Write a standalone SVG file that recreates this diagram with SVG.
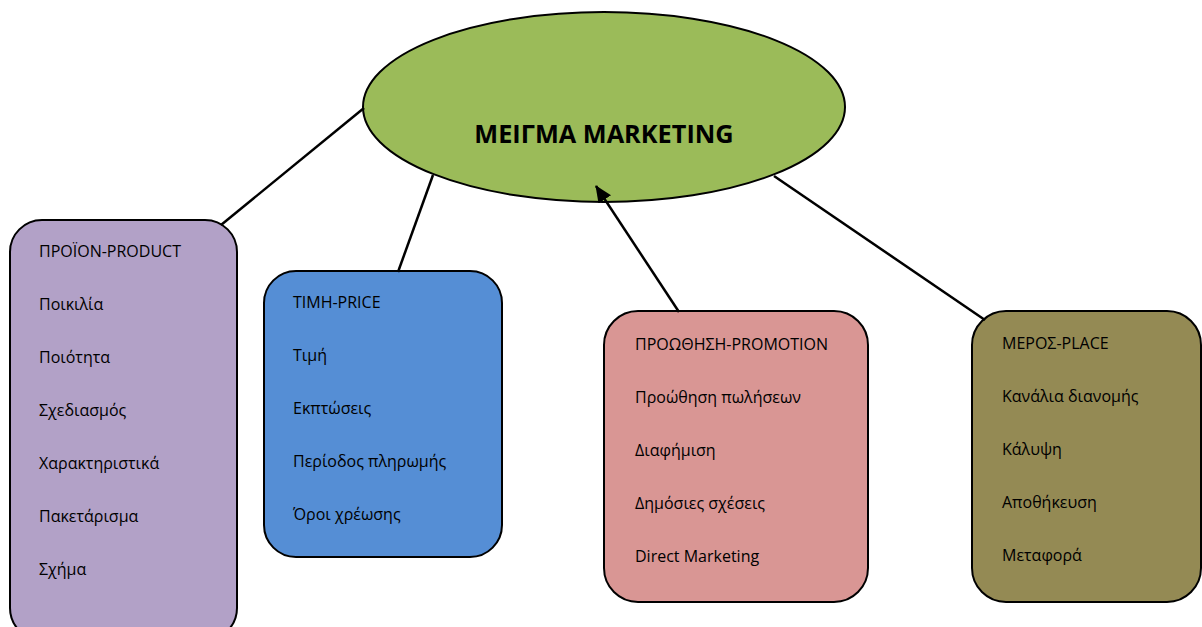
<svg xmlns="http://www.w3.org/2000/svg" width="1202" height="627" viewBox="0 0 1202 627">
  <style>
    .box { stroke: #000; stroke-width: 2; }
    .lbl { font-family: "Open Sans", "Liberation Sans", sans-serif; font-size: 16px; fill: #000; }
    .title { font-family: "Open Sans", "Liberation Sans", sans-serif; font-size: 25.3px; font-weight: bold; fill: #000; text-anchor: middle; }
    .conn { stroke: #000; stroke-width: 2.5; fill: none; }
  </style>
  <defs>
    <marker id="arrow" markerWidth="17" markerHeight="15" refX="16" refY="7.5" orient="auto" markerUnits="userSpaceOnUse" viewBox="0 0 17 15">
      <path d="M0,0 L17,7.5 L0,15 z" fill="#000"/>
    </marker>
  </defs>
  <rect width="1202" height="627" fill="#fff"/>

  <!-- central node -->
  <g id="mix">
    <ellipse class="box" cx="604" cy="107" rx="241" ry="95" fill="#9BBB59"/>
    <text class="title" x="604" y="143">ΜΕΙΓΜΑ MARKETING</text>
  </g>

  <g id="product">
    <rect class="box" x="10" y="220" width="227" height="420" rx="32" fill="#B2A1C7"/>
    <text class="lbl" x="39" y="257">ΠΡΟΪΟΝ-PRODUCT</text>
    <text class="lbl" x="39" y="310">Ποικιλία</text>
    <text class="lbl" x="39" y="363">Ποιότητα</text>
    <text class="lbl" x="39" y="416">Σχεδιασμός</text>
    <text class="lbl" x="39" y="469">Χαρακτηριστικά</text>
    <text class="lbl" x="39" y="522">Πακετάρισμα</text>
    <text class="lbl" x="39" y="575">Σχήμα</text>
  </g>

  <g id="price">
    <rect class="box" x="264" y="271" width="238" height="286" rx="32" fill="#558ED5"/>
    <text class="lbl" x="293" y="308">ΤΙΜΗ-PRICE</text>
    <text class="lbl" x="293" y="361">Τιμή</text>
    <text class="lbl" x="293" y="414">Εκπτώσεις</text>
    <text class="lbl" x="293" y="467">Περίοδος πληρωμής</text>
    <text class="lbl" x="293" y="520">Όροι χρέωσης</text>
  </g>

  <g id="promotion">
    <rect class="box" x="604" y="311" width="264" height="291" rx="34" fill="#D99694"/>
    <text class="lbl" x="635" y="350">ΠΡΟΩΘΗΣΗ-PROMOTION</text>
    <text class="lbl" x="635" y="403">Προώθηση πωλήσεων</text>
    <text class="lbl" x="635" y="456">Διαφήμιση</text>
    <text class="lbl" x="635" y="509">Δημόσιες σχέσεις</text>
    <text class="lbl" x="635" y="562">Direct Marketing</text>
  </g>

  <g id="place">
    <rect class="box" x="972" y="311" width="229" height="291" rx="34" fill="#948A54"/>
    <text class="lbl" x="1002" y="349">ΜΕΡΟΣ-PLACE</text>
    <text class="lbl" x="1002" y="402">Κανάλια διανομής</text>
    <text class="lbl" x="1002" y="455">Κάλυψη</text>
    <text class="lbl" x="1002" y="508">Αποθήκευση</text>
    <text class="lbl" x="1002" y="561">Μεταφορά</text>
  </g>

  <!-- connectors, drawn on top so the arrowhead shows over the ellipse -->
  <g id="connectors">
    <line class="conn" x1="364" y1="108" x2="221" y2="225"/>
    <line class="conn" x1="433" y1="175" x2="398" y2="272"/>
    <line class="conn" x1="679" y1="312" x2="596" y2="186" marker-end="url(#arrow)"/>
    <line class="conn" x1="774" y1="176" x2="985" y2="320"/>
  </g>
</svg>
